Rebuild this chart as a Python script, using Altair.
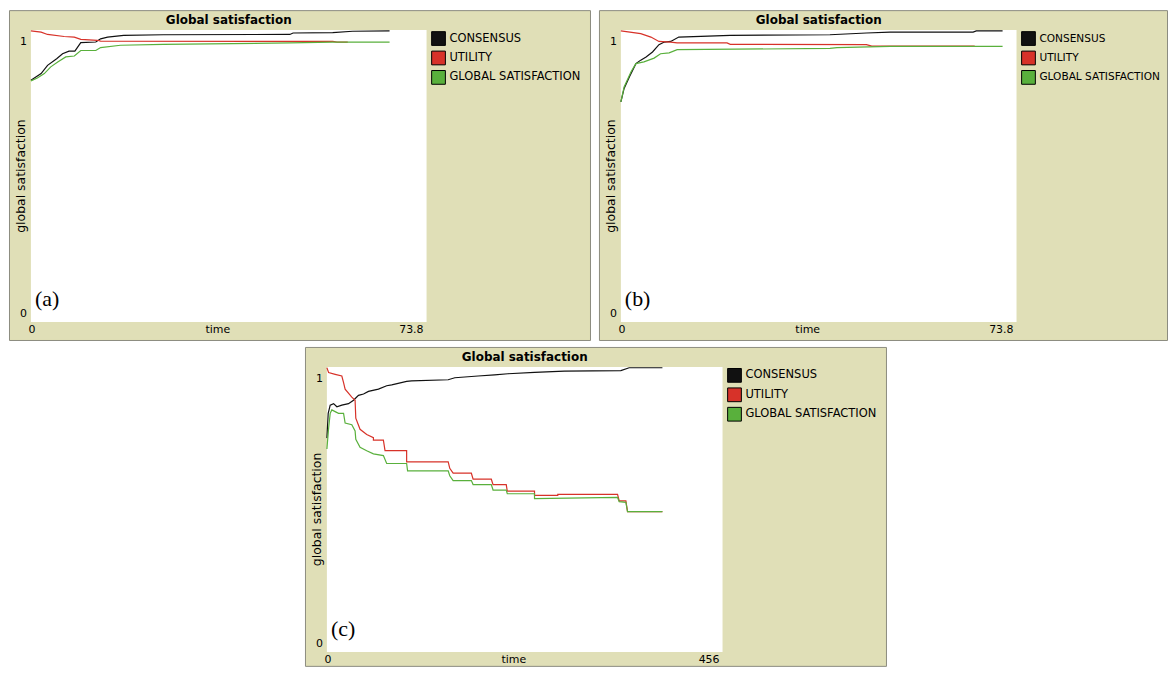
import altair as alt
import pandas as pd

SERIES = ["CONSENSUS", "UTILITY", "GLOBAL SATISFACTION"]
COLORS = ["#111111", "#d73229", "#59b03c"]
BEIGE = "#e0dfb7"
BORDER = "#8c8c80"
FONT = "DejaVu Sans"

TITLE = "Global satisfaction"
X_TITLE = "time"
Y_TITLE = "global satisfaction"
Y_TICKS = [0, 1]
Y_LABELS = ["0", "1"]

# ---------------- panel (a) ----------------
A_XTICKS = [0, 73.8]
A_XLABELS = ["0", "73.8"]
a_cons_t = [0, 1.9, 3.1, 4.8, 5.9, 7.1, 8.2, 9.3, 12.1, 13.0, 14.3, 17.3, 24.7, 48.3, 48.9, 56.3, 60.0, 66.9]
a_cons_v = [0.828, 0.851, 0.879, 0.902, 0.919, 0.928, 0.928, 0.957, 0.959, 0.970, 0.976, 0.982, 0.984, 0.985, 0.990, 0.991, 0.996, 0.997]
a_util_t = [0, 1.9, 3.1, 6.2, 8.1, 9.3, 12.4, 13.0, 56.3, 57.1, 59.1]
a_util_v = [0.997, 0.993, 0.985, 0.978, 0.976, 0.968, 0.965, 0.962, 0.961, 0.959, 0.959]
a_glob_t = [0, 1.2, 2.5, 3.7, 5.0, 6.5, 8.1, 9.3, 12.1, 13.0, 16.7, 24.7, 48.3, 56.3, 66.9]
a_glob_v = [0.826, 0.836, 0.851, 0.874, 0.891, 0.908, 0.911, 0.930, 0.930, 0.940, 0.948, 0.951, 0.956, 0.959, 0.959]

# ---------------- panel (b) ----------------
B_XTICKS = [0, 73.8]
B_XLABELS = ["0", "73.8"]
b_cons_t = [0, 0.6, 1.6, 2.8, 3.7, 4.7, 5.9, 7.1, 8.1, 9.3, 10.8, 20.4, 39.0, 45.8, 50.2, 65.7, 66.3, 71.2]
b_cons_v = [0.754, 0.800, 0.840, 0.885, 0.897, 0.908, 0.925, 0.950, 0.959, 0.961, 0.976, 0.982, 0.984, 0.990, 0.993, 0.993, 0.997, 0.997]
b_util_t = [0, 3.7, 5.6, 7.1, 9.3, 10.5, 19.8, 20.4, 45.8, 46.8, 66.0]
b_util_v = [0.997, 0.988, 0.976, 0.961, 0.959, 0.956, 0.956, 0.951, 0.950, 0.945, 0.945]
b_glob_t = [0, 0.6, 1.9, 2.8, 4.3, 6.2, 7.4, 9.0, 10.5, 39.0, 40.3, 50.2, 71.2]
b_glob_v = [0.754, 0.805, 0.857, 0.885, 0.891, 0.904, 0.919, 0.922, 0.933, 0.937, 0.940, 0.944, 0.944]

# ---------------- panel (c) ----------------
C_XTICKS = [0, 456]
C_XLABELS = ["0", "456"]
c_cons_t = [0, 1.5, 3.8, 7.7, 11.5, 17.2, 24.9, 30.7, 36.4, 42.2, 47.9, 59.4, 68.9, 74.7, 91.9, 97.6,
            139.8, 147.4, 174.2, 193.3, 208.7, 239.3, 273.7, 338.8, 348.4, 386.7]
c_cons_v = [0.75, 0.837, 0.866, 0.871, 0.860, 0.866, 0.871, 0.883, 0.900, 0.905, 0.914, 0.922, 0.934, 0.937,
            0.949, 0.951, 0.955, 0.962, 0.968, 0.972, 0.976, 0.981, 0.985, 0.987, 0.997, 0.997]
c_util_t = [0, 2.0, 9.5, 17.2, 19.2, 21.0, 28.7, 32.5, 33.3, 38.2, 45.9, 53.6, 53.6, 65.1, 67.0, 91.9, 91.9,
            139.8, 141.6, 145.5, 166.5, 168.5, 189.5, 191.5, 206.7, 207.9, 239.3, 239.3, 266.1, 266.1,
            335.0, 336.9, 344.6, 346.5, 386.7]
c_util_v = [0.997, 0.980, 0.974, 0.968, 0.945, 0.922, 0.894, 0.883, 0.820, 0.781, 0.763, 0.752, 0.743, 0.743,
            0.706, 0.706, 0.667, 0.667, 0.644, 0.627, 0.627, 0.606, 0.606, 0.587, 0.587, 0.564, 0.564,
            0.549, 0.549, 0.553, 0.553, 0.530, 0.530, 0.492, 0.492]
c_glob_t = [0, 2.0, 3.8, 5.7, 9.5, 13.4, 19.2, 21.0, 28.7, 32.5, 33.3, 38.2, 45.9, 53.6, 65.1, 68.9, 91.9,
            93.0, 139.8, 141.6, 145.5, 166.5, 168.5, 189.5, 191.5, 206.7, 207.9, 239.3, 239.3, 335.0,
            336.9, 344.6, 346.5, 386.7]
c_glob_v = [0.712, 0.786, 0.837, 0.849, 0.843, 0.837, 0.837, 0.803, 0.797, 0.775, 0.746, 0.718, 0.706,
            0.695, 0.689, 0.661, 0.661, 0.635, 0.635, 0.618, 0.601, 0.601, 0.587, 0.587, 0.568, 0.568,
            0.555, 0.555, 0.538, 0.542, 0.527, 0.525, 0.492, 0.492]

# layout (pixels inside each panel)
X_RANGE = [22, 419]
LEG_Y = [28.5, 67.5]


def text_layer(x, y, label, xs, ys, **props):
    df = pd.DataFrame({"x": [x], "y": [y], "lab": [label]})
    base = dict(font=FONT, fontSize=11, color="#000000", baseline="middle")
    base.update(props)
    return alt.Chart(df).mark_text(**base).encode(
        x=alt.X("x:Q", scale=xs, axis=None),
        y=alt.Y("y:Q", scale=ys, axis=None),
        text="lab:N",
    )


def panel(series_data, xticks, xlabels, tag, width, height, y_range, leg_font=11.5):
    xmax = xticks[-1]
    xs = alt.Scale(domain=[0, xmax], range=X_RANGE, nice=False, zero=False)
    ys = alt.Scale(domain=[Y_TICKS[0], Y_TICKS[-1]], range=y_range, nice=False, zero=False)

    white = alt.Chart(pd.DataFrame({"x0": [xticks[0]], "x1": [xmax], "y0": [Y_TICKS[0]], "y1": [Y_TICKS[-1]]})
                      ).mark_rect(fill="white").encode(
        x=alt.X("x0:Q", scale=xs, axis=None), x2="x1:Q",
        y=alt.Y("y0:Q", scale=ys, axis=None), y2="y1:Q")

    lines = []
    for name, color, (ts, vs) in zip(SERIES, COLORS, series_data):
        df = pd.DataFrame({"t": ts, "v": vs, "i": list(range(len(ts)))})
        lines.append(alt.Chart(df).mark_line(color=color, strokeWidth=1.2).encode(
            x=alt.X("t:Q", scale=xs, axis=None),
            y=alt.Y("v:Q", scale=ys, axis=None),
            order="i:Q"))

    texts = [
        text_layer(xmax / 2, Y_TICKS[-1], TITLE, xs, ys, fontWeight="bold", fontSize=12, dy=-10),
        text_layer(xticks[0], Y_TICKS[-1], Y_LABELS[-1], xs, ys, align="right", dx=-4, dy=12),
        text_layer(xticks[0], Y_TICKS[0], Y_LABELS[0], xs, ys, align="right", dx=-4, dy=-8),
        text_layer(xticks[0], Y_TICKS[0], xlabels[0], xs, ys, align="center", dx=1, dy=8),
        text_layer(xmax, Y_TICKS[0], xlabels[-1], xs, ys, align="right", dx=-3, dy=8),
        text_layer(xmax / 2, Y_TICKS[0], X_TITLE, xs, ys, align="center", dx=-11, dy=8),
        text_layer(xticks[0], 0.5, Y_TITLE, xs, ys, align="center", angle=270, dy=-10, fontSize=12.5),
        text_layer(xticks[0], Y_TICKS[0], tag, xs, ys, align="left", font="Liberation Serif",
                   fontSize=22, dx=4, dy=-23),
    ]
    inner = alt.layer(white, *lines, *texts)

    leg = pd.DataFrame({"series": SERIES})
    ly = alt.Y("series:N", sort=SERIES,
               scale=alt.Scale(type="point", domain=SERIES, range=LEG_Y, padding=0), axis=None)
    squares = alt.Chart(leg).mark_square(size=190, filled=True, opacity=1, stroke="black",
                                         strokeWidth=1).encode(
        x=alt.value(431), y=ly,
        color=alt.Color("series:N", scale=alt.Scale(domain=SERIES, range=COLORS), legend=None))
    labels = alt.Chart(leg).mark_text(align="left", baseline="middle", font=FONT, fontSize=leg_font,
                                      clip=True).encode(x=alt.value(442), y=ly, text="series:N")
    legend_layer = alt.layer(squares, labels)

    return alt.layer(inner, legend_layer).resolve_scale(y="independent").properties(
        width=width, height=height,
        view=alt.ViewBackground(fill=BEIGE, stroke=BORDER, strokeWidth=1))


pa = panel([(a_cons_t, a_cons_v), (a_util_t, a_util_v), (a_glob_t, a_glob_v)],
           A_XTICKS, A_XLABELS, "(a)", 583, 331, [313, 20])
pb = panel([(b_cons_t, b_cons_v), (b_util_t, b_util_v), (b_glob_t, b_glob_v)],
           B_XTICKS, B_XLABELS, "(b)", 570, 331, [313, 20], leg_font=10.6)
pc = panel([(c_cons_t, c_cons_v), (c_util_t, c_util_v), (c_glob_t, c_glob_v)],
           C_XTICKS, C_XLABELS, "(c)", 583, 320, [306, 20])

spacer = alt.Chart(pd.DataFrame({"s": [0]})).mark_point(opacity=0, size=0).encode(
    x=alt.value(0), y=alt.value(0)).properties(
    width=295, height=320, view=alt.ViewBackground(stroke="transparent", fill="transparent"))

top = alt.hconcat(pa, pb, spacing=7)
bottom = alt.hconcat(spacer, pc, spacing=0)
chart = alt.vconcat(top, bottom, spacing=5).properties(
    padding={"left": 0, "top": 0, "right": 0, "bottom": 0}, background="white")

chart.save("out.html", embed_options={"renderer": "svg", "actions": False})
